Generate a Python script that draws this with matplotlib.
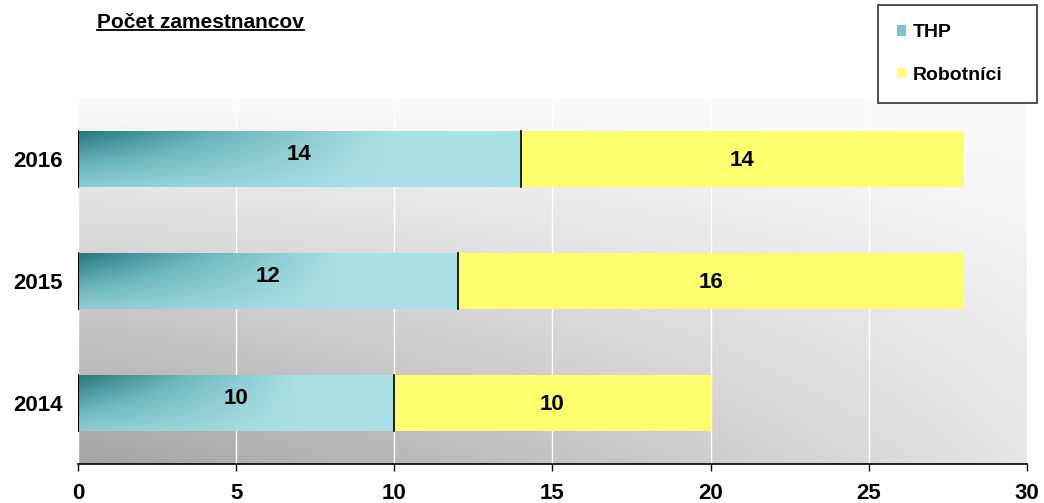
import matplotlib.pyplot as plt
import numpy as np
from matplotlib.colors import LinearSegmentedColormap
from matplotlib.patches import Patch
from matplotlib.lines import Line2D

plt.rcParams['font.family'] = ['Liberation Sans', 'DejaVu Sans']
plt.rcParams['font.weight'] = 'bold'

years = ["2014", "2015", "2016"]
thp = [10, 12, 14]
robotnici = [10, 16, 14]
title = "Počet zamestnancov"
x_ticks = [0, 5, 10, 15, 20, 25, 30]

yellow = "#ffff6e"
teal_cmap = LinearSegmentedColormap.from_list("teal", ["#abe1e6", "#6fb8bf", "#22767e"])

fig = plt.figure(figsize=(10.44, 5.03), dpi=100)
ax = fig.add_axes([0.0747, 0.0775, 0.909, 0.7277])

# gray background gradient (dark lower-left, light upper-right)
gx, gy = np.meshgrid(np.linspace(0, 1, 300), np.linspace(0, 1, 150))
dark = 0.35 * (1 - gy) ** 0.9 * (1 - 0.72 * gx ** 1.1)
val = np.clip(1 - dark, 0, 0.985)
bg = np.dstack([val, val * 0.995, val * 0.998])
ax.imshow(bg, origin="lower", extent=[0, 1, 0, 1],
          transform=ax.transAxes, aspect="auto", zorder=0)

ax.set_xlim(0, 30)
ax.set_ylim(-0.5, 2.5)
ax.grid(axis="x", color="white", linewidth=1, zorder=1)

ypos = np.arange(len(years))
h = 0.46
bars1 = ax.barh(ypos, thp, height=h, color="#abe1e6", zorder=2)
bars2 = ax.barh(ypos, robotnici, left=thp, height=h, color=yellow, zorder=2)

# teal shading inside THP bars
u, v = np.meshgrid(np.linspace(0, 1, 200), np.linspace(0, 1, 60))
for b in bars1:
    x0, y0 = b.get_x(), b.get_y()
    w, hh = b.get_width(), b.get_height()
    shade = np.clip(1 - u / 0.7, 0, 1) * (0.25 + 0.75 * v)
    im = ax.imshow(shade, cmap=teal_cmap, origin="lower", vmin=0, vmax=1,
                   extent=[x0, x0 + w, y0, y0 + hh], aspect="auto", zorder=2.5)
    im.set_clip_path(b)

for i in range(len(years)):
    y0 = ypos[i] - h / 2
    ax.plot([0, 0], [y0, y0 + h], color="black", lw=1.5, zorder=3)
    ax.plot([thp[i], thp[i]], [y0, y0 + h], color="black", lw=1.2, zorder=3)
    ax.text(thp[i] / 2, ypos[i] + 0.04, str(thp[i]), ha="center", va="center",
            fontsize=16, fontweight="bold", zorder=4)
    ax.text(thp[i] + robotnici[i] / 2, ypos[i] - 0.01, str(robotnici[i]),
            ha="center", va="center", fontsize=16, fontweight="bold", zorder=4)

ax.set_yticks(ypos)
ax.set_yticklabels(years, fontsize=16, fontweight="bold")
ax.set_xticks(x_ticks)
ax.set_xticklabels([str(t) for t in x_ticks], fontsize=16, fontweight="bold")
ax.tick_params(axis="y", length=0, pad=11)
ax.tick_params(axis="x", length=5, width=1, direction="out", pad=9)
for s in ["top", "right", "left"]:
    ax.spines[s].set_visible(False)
ax.spines["bottom"].set_color("black")
ax.spines["bottom"].set_linewidth(1.2)

t = fig.text(0.093, 0.955, title, fontsize=15, fontweight="bold",
             ha="left", va="center")
fig.canvas.draw()
bb = t.get_window_extent().transformed(fig.transFigure.inverted())
fig.add_artist(Line2D([bb.x0, bb.x1], [bb.y0 + 0.004, bb.y0 + 0.004],
                      color="black", lw=1.3, transform=fig.transFigure))

handles = [Patch(facecolor="#7cc4cc", edgecolor="none"),
           Patch(facecolor=yellow, edgecolor="none")]
leg = fig.legend(handles, ["THP", "Robotníci"], loc="upper left",
                 bbox_to_anchor=(0.841, 0.805, 0.152, 0.185), mode="expand",
                 prop={"size": 14, "weight": "bold"}, fancybox=False,
                 edgecolor="black", handlelength=0.45, handleheight=0.45,
                 handletextpad=0.35, labelspacing=1.3, borderpad=1.0,
                 borderaxespad=0)
leg.get_frame().set_linewidth(1.2)

fig.savefig("out.png", dpi=100)
